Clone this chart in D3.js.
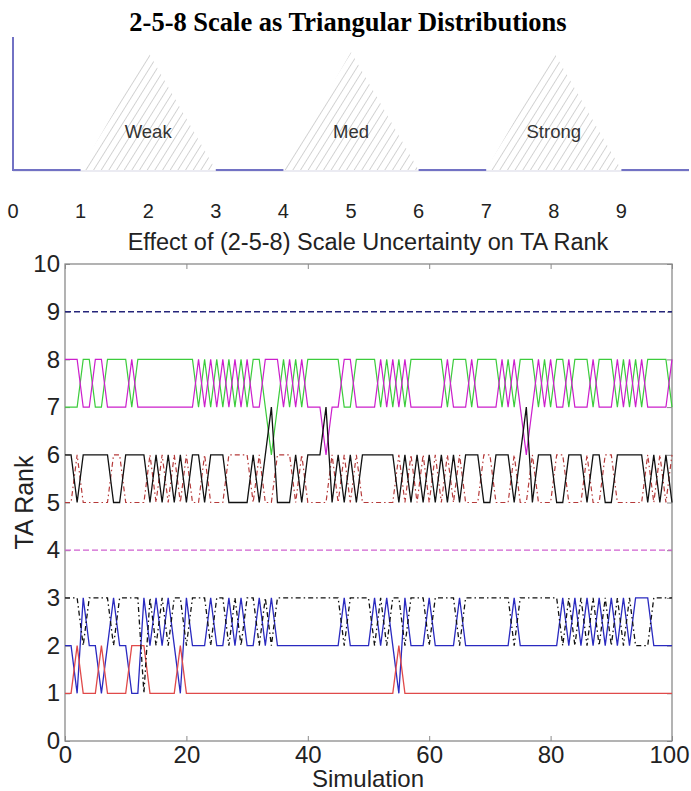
<!DOCTYPE html>
<html>
<head>
<meta charset="utf-8">
<script src="https://cdn.jsdelivr.net/npm/d3@7"></script>
<style>
  body { margin: 0; background: #fff; }
  svg { display: block; }
</style>
</head>
<body>
<div id="chart"></div>
<script>
// 上图: 2-5-8 三角分布
var scalePoints = [0, 1, 2, 3, 4, 5, 6, 7, 8, 9];
var levelNames = ["Weak", "Med", "Strong"];
var levelLow = [1, 4, 7];
var levelMode = [2, 5, 8];
var levelHigh = [3, 6, 9];

// 下图: 每次模拟的 TA 排名
var simulation = d3.range(0, 101);
var simTicks = [0, 20, 40, 60, 80, 100];
var rankTicks = [0, 1, 2, 3, 4, 5, 6, 7, 8, 9, 10];
var constSims = [0, 100];
var rank9 = [9, 9];
var rank4 = [4, 4];
var magentaRank = [8,8,8,7,7,8,8,7,7,7, 7,8,7,7,7,7,7,7,7,7, 7,7,8,7,8,7,8,7,8,7, 8,7,7,8,8,8,7,8,7,8,
  7,7,7,6,7,7,8,8,7,7, 7,7,8,7,8,7,8,7,7,7, 7,7,7,8,7,7,7,8,7,7, 7,7,8,7,8,7,6,7,8,7,
  8,7,7,8,7,7,7,8,7,7, 7,8,7,8,7,8,7,7,7,7, 8];
var greenRank = [7,7,7,8,8,7,7,8,8,8, 8,7,8,8,8,8,8,8,8,8, 8,8,7,8,7,8,7,8,7,8, 7,8,8,7,6,7,8,7,8,7,
  8,8,8,8,8,8,7,7,8,8, 8,8,7,8,7,8,7,8,8,8, 8,8,8,7,8,8,8,7,8,8, 8,8,7,8,7,8,8,8,7,8,
  7,8,8,7,8,8,8,7,8,8, 8,7,8,7,8,7,8,8,8,8, 7];
var blackRank = [6,6,5,6,6,6,6,6,5,5, 6,6,6,6,5,6,5,6,5,6, 5,6,6,5,6,6,6,5,5,5, 5,6,5,6,7,5,5,5,6,5,
  6,6,6,7,5,6,5,6,5,6, 6,6,6,6,6,5,6,5,6,5, 6,5,6,5,6,5,6,6,6,5, 5,6,6,6,5,6,7,5,6,6,
  6,5,5,6,6,6,5,6,6,5, 5,6,6,6,6,6,5,6,5,6, 5];
var redDashRank = [5,5,6,5,5,5,5,5,6,6, 5,5,5,5,6,5,6,5,6,5, 6,5,5,6,5,5,5,6,6,6, 6,5,6,5,5,6,6,6,5,6,
  5,5,5,5,6,5,6,5,6,5, 5,5,5,5,5,6,5,6,5,6, 5,6,5,6,5,6,5,5,5,6, 6,5,5,5,6,5,5,6,5,5,
  5,6,6,5,5,5,6,5,5,6, 6,5,5,5,5,5,6,5,6,5, 6];
var blueRank = [2,2,1,3,2,2,1,2,3,2, 2,1,1,3,2,3,2,3,2,1, 3,2,2,2,3,2,2,3,2,3, 2,2,3,2,3,2,2,2,2,2,
  2,2,2,2,2,2,3,2,2,2, 2,3,2,3,2,1,3,2,2,2, 3,2,2,2,2,3,2,2,2,2, 2,2,2,2,3,2,2,2,2,2,
  2,2,3,2,3,2,3,2,3,2, 3,2,3,2,3,3,3,2,2,2, 2];
var blackDashRank = [3,3,3,2,3,3,3,3,2,3, 3,3,3,1,3,2,3,2,3,3, 2,3,3,3,2,3,3,2,3,2, 3,3,2,3,2,3,3,3,3,3,
  3,3,3,3,3,3,2,3,3,3, 3,2,3,2,3,3,2,3,3,3, 2,3,3,3,3,2,3,3,3,3, 3,3,3,3,2,3,3,3,3,3,
  3,3,2,3,2,3,2,3,2,3, 2,3,2,3,2,2,2,3,3,3, 3];
var redRank = [1,1,2,1,1,1,2,1,1,1, 1,2,2,2,1,1,1,1,1,2, 1,1,1,1,1,1,1,1,1,1, 1,1,1,1,1,1,1,1,1,1,
  1,1,1,1,1,1,1,1,1,1, 1,1,1,1,1,2,1,1,1,1, 1,1,1,1,1,1,1,1,1,1, 1,1,1,1,1,1,1,1,1,1,
  1,1,1,1,1,1,1,1,1,1, 1,1,1,1,1,1,1,1,1,1, 1];

var W = 691, H = 791;
var svg = d3.select("#chart").append("svg").attr("width", W).attr("height", H);

function drawScale() {
  var xs = d3.scaleLinear().domain([0, 10]).range([13, 689]);
  var ys = d3.scaleLinear().domain([0, 1]).range([170, 52]);

  svg.append("text").attr("x", 348).attr("y", 31)
    .attr("text-anchor", "middle")
    .style("font-family", "'Liberation Serif', 'Times New Roman', serif")
    .style("font-weight", "bold").style("font-size", "26.5px")
    .text("2-5-8 Scale as Triangular Distributions");

  var defs = svg.append("defs");
  var pat = defs.append("pattern").attr("id", "hatch")
    .attr("patternUnits", "userSpaceOnUse")
    .attr("width", 6.5).attr("height", 6.5)
    .attr("patternTransform", "rotate(32)");
  pat.append("line").attr("x1", 0).attr("y1", 0).attr("x2", 0).attr("y2", 6.5)
    .attr("stroke", "#b0b0b0").attr("stroke-width", 1.1);

  var tri = levelNames.map(function(name, i) {
    return { name: name, low: levelLow[i], mode: levelMode[i], high: levelHigh[i] };
  });

  // 底线, 三角形下方较淡
  svg.append("line").attr("x1", xs(0)).attr("x2", xs(10))
    .attr("y1", ys(0) + 1).attr("y2", ys(0) + 1)
    .attr("stroke", "#e4e4ee").attr("stroke-width", 1.5);
  var gaps = [[0, levelLow[0]]];
  for (var i = 0; i < tri.length - 1; i++) gaps.push([levelHigh[i], levelLow[i + 1]]);
  gaps.push([levelHigh[tri.length - 1], 10]);
  svg.append("g").selectAll("line").data(gaps).join("line")
    .attr("x1", function(d) { return xs(d[0]); })
    .attr("x2", function(d) { return xs(d[1]); })
    .attr("y1", ys(0)).attr("y2", ys(0))
    .attr("stroke", "#7272c4").attr("stroke-width", 2);
  svg.append("line").attr("x1", xs(0)).attr("x2", xs(0))
    .attr("y1", 37).attr("y2", ys(0) + 1)
    .attr("stroke", "#7272c4").attr("stroke-width", 2);

  var area = d3.line().x(function(d) { return xs(d[0]); }).y(function(d) { return ys(d[1]); });
  var g = svg.append("g").selectAll("g").data(tri).join("g");
  g.append("path")
    .attr("d", function(d) { return area([[d.low, 0], [d.mode, 1], [d.high, 0]]) + "Z"; })
    .attr("fill", "url(#hatch)");
  g.append("text")
    .attr("x", function(d) { return xs(d.mode); })
    .attr("y", 138)
    .attr("text-anchor", "middle")
    .style("font-family", "'Liberation Sans', Arial, sans-serif")
    .style("font-size", "18.5px").attr("fill", "#333")
    .text(function(d) { return d.name; });

  svg.append("g").selectAll("text").data(scalePoints).join("text")
    .attr("x", function(d) { return xs(d); })
    .attr("y", 218)
    .attr("text-anchor", "middle")
    .style("font-family", "'Liberation Sans', Arial, sans-serif")
    .style("font-size", "20px").attr("fill", "#222")
    .text(function(d) { return d; });
}

function drawRanks() {
  var x = d3.scaleLinear().domain([0, 100]).range([65, 672]);
  var y = d3.scaleLinear().domain([0, 10]).range([741, 264]);
  var font = "'Liberation Sans', Arial, sans-serif";

  svg.append("text").attr("x", 368).attr("y", 250)
    .attr("text-anchor", "middle")
    .style("font-family", font).style("font-size", "23.5px").attr("fill", "#222")
    .text("Effect of (2-5-8) Scale Uncertainty on TA Rank");

  var ax = svg.append("g");
  ax.append("rect").attr("x", x(0)).attr("y", y(10))
    .attr("width", x(100) - x(0)).attr("height", y(0) - y(10))
    .attr("fill", "none").attr("stroke", "#8a8a8a").attr("stroke-width", 1.3);

  var left = ax.append("g").attr("transform", "translate(" + x(0) + ",0)")
    .call(d3.axisLeft(y).tickValues(rankTicks).tickSize(-5).tickPadding(5).tickFormat(d3.format("d")));
  var bottom = ax.append("g").attr("transform", "translate(0," + y(0) + ")")
    .call(d3.axisBottom(x).tickValues(simTicks).tickSize(-5).tickPadding(3).tickFormat(d3.format("d")));
  ax.append("g").attr("transform", "translate(0," + y(10) + ")")
    .call(d3.axisTop(x).tickValues(simTicks).tickSize(-5).tickFormat(""));
  ax.append("g").attr("transform", "translate(" + x(100) + ",0)")
    .call(d3.axisRight(y).tickValues(rankTicks).tickSize(-5).tickFormat(""));
  ax.selectAll(".domain").remove();
  ax.selectAll(".tick line").attr("stroke", "#8a8a8a");
  ax.selectAll(".tick text").style("font-family", font).style("font-size", "24px").attr("fill", "#222");
  bottom.selectAll(".tick text").attr("dy", "0.8em")
    .attr("dx", function(d) { return d === 100 ? -3 : 0; });

  var line = d3.line()
    .x(function(d) { return x(d[0]); })
    .y(function(d) { return y(d[1]); });
  function pairs(xs, vs) { return vs.map(function(v, i) { return [xs[i], v]; }); }

  var series = [
    { v: rank9, xs: constSims, color: "#25257a", dash: "6,3", w: 1.4 },
    { v: rank4, xs: constSims, color: "#d060d0", dash: "6,3", w: 1.2 },
    { v: greenRank, xs: simulation, color: "#3ccc3c", dash: null, w: 1.2 },
    { v: magentaRank, xs: simulation, color: "#cc1fcc", dash: null, w: 1.2 },
    { v: redDashRank, xs: simulation, color: "#b53a3a", dash: "5,3,1.5,3", w: 1.2 },
    { v: blackRank, xs: simulation, color: "#111", dash: null, w: 1.3 },
    { v: blueRank, xs: simulation, color: "#2a2ac0", dash: null, w: 1.3 },
    { v: redRank, xs: simulation, color: "#e04a4a", dash: null, w: 1.3 },
    { v: blackDashRank, xs: simulation, color: "#111", dash: "5,3,1.5,3", w: 1.3 }
  ];
  svg.append("g").selectAll("path").data(series).join("path")
    .attr("d", function(d) { return line(pairs(d.xs, d.v)); })
    .attr("fill", "none")
    .attr("stroke", function(d) { return d.color; })
    .attr("stroke-width", function(d) { return d.w; })
    .attr("stroke-dasharray", function(d) { return d.dash; });

  svg.append("text").attr("x", 368).attr("y", 787)
    .attr("text-anchor", "middle")
    .style("font-family", font).style("font-size", "24px").attr("fill", "#222")
    .text("Simulation");
  svg.append("text")
    .attr("transform", "translate(33," + y(5) + ") rotate(-90)")
    .attr("text-anchor", "middle")
    .style("font-family", font).style("font-size", "25px").attr("fill", "#222")
    .text("TA Rank");
}

drawScale();
drawRanks();
</script>
</body>
</html>
